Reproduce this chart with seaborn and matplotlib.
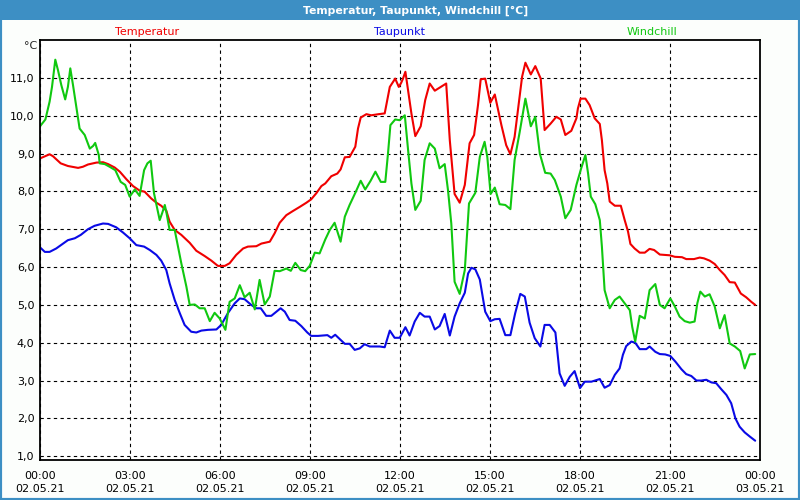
import pandas as pd
import matplotlib
matplotlib.use("Agg")
import matplotlib.pyplot as plt
import matplotlib.dates as mdates
from matplotlib.patches import Rectangle
from matplotlib.ticker import FuncFormatter
import seaborn as sns

# Stunden seit 02.05.21 00:00 und Werte in °C
temp_h = [0.00, 0.32, 0.43, 0.69, 0.93, 1.27, 1.43, 1.60, 1.88, 2.10, 2.27, 2.49, 2.66, 2.88, 3.10,
          3.32, 3.49, 3.71, 3.88, 4.04, 4.21, 4.32, 4.49, 4.71, 4.99, 5.21, 5.49, 5.71, 5.93, 6.16,
          6.32, 6.54, 6.77, 6.93, 7.21, 7.38, 7.66, 7.82, 7.99, 8.21, 8.43, 8.66, 8.88, 9.04, 9.21,
          9.38, 9.51, 9.71, 9.91, 10.02, 10.16, 10.32, 10.51, 10.60, 10.69, 10.88, 11.04, 11.29, 11.49,
          11.66, 11.84, 11.96, 12.04, 12.10, 12.18, 12.27, 12.38, 12.51, 12.69, 12.84, 12.99, 13.16,
          13.32, 13.54, 13.66, 13.82, 13.99, 14.16, 14.32, 14.47, 14.60, 14.69, 14.84, 15.01, 15.16,
          15.38, 15.54, 15.68, 15.82, 15.96, 16.07, 16.18, 16.36, 16.51, 16.69, 16.82, 17.02, 17.21,
          17.36, 17.51, 17.71, 17.88, 17.93, 18.02, 18.18, 18.32, 18.49, 18.66, 18.73, 18.82, 18.91,
          18.99, 19.16, 19.36, 19.49, 19.60, 19.68, 19.82, 19.99, 20.16, 20.32, 20.47, 20.66, 20.84,
          20.99, 21.16, 21.40, 21.54, 21.80, 21.99, 22.13, 22.32, 22.49, 22.66, 22.82, 22.99, 23.16,
          23.36, 23.54, 23.71, 23.84]
temp = [8.87, 8.98, 8.93, 8.74, 8.67, 8.62, 8.65, 8.71, 8.76, 8.77, 8.72, 8.63, 8.52, 8.32, 8.14,
        8.02, 7.99, 7.81, 7.70, 7.62, 7.49, 7.20, 6.98, 6.85, 6.64, 6.43, 6.29, 6.17, 6.03, 6.03,
        6.10, 6.32, 6.49, 6.54, 6.55, 6.62, 6.67, 6.89, 7.17, 7.37, 7.48, 7.59, 7.70, 7.79, 7.95,
        8.14, 8.21, 8.40, 8.47, 8.58, 8.90, 8.91, 9.18, 9.66, 9.95, 10.04, 10.01, 10.04, 10.06,
        10.76, 10.98, 10.76, 10.87, 10.98, 11.16, 10.67, 10.06, 9.46, 9.72, 10.41, 10.85, 10.66,
        10.74, 10.85, 9.35, 7.93, 7.70, 8.17, 9.27, 9.49, 10.28, 10.96, 10.98, 10.34, 10.56,
        9.75, 9.22, 8.98, 9.44, 10.32, 11.03, 11.40, 11.09, 11.31, 10.98, 9.62, 9.79, 9.97,
        9.90, 9.49, 9.60, 9.93, 10.19, 10.45, 10.45, 10.28, 9.93, 9.78, 9.35, 8.56, 8.21,
        7.73, 7.62, 7.62, 7.24, 6.94, 6.61, 6.49, 6.38, 6.38, 6.48, 6.45, 6.33, 6.32,
        6.31, 6.27, 6.26, 6.21, 6.21, 6.25, 6.23, 6.17, 6.08, 5.92, 5.79, 5.60, 5.59,
        5.30, 5.20, 5.08, 5.00]

taup_h = [0.00, 0.16, 0.32, 0.54, 0.77, 0.93, 1.16, 1.36, 1.60, 1.82, 2.10, 2.27, 2.54, 2.77, 2.99,
          3.21, 3.47, 3.66, 3.88, 4.04, 4.21, 4.32, 4.49, 4.66, 4.82, 5.04, 5.21, 5.38, 5.60, 5.88,
          6.04, 6.27, 6.49, 6.66, 6.82, 7.04, 7.21, 7.36, 7.54, 7.71, 7.88, 8.02, 8.16, 8.32, 8.51,
          8.71, 8.91, 9.04, 9.27, 9.43, 9.58, 9.71, 9.84, 9.96, 10.16, 10.32, 10.49, 10.66, 10.82,
          10.99, 11.16, 11.32, 11.49, 11.66, 11.82, 11.99, 12.18, 12.32, 12.49, 12.66, 12.82, 12.99,
          13.16, 13.32, 13.49, 13.66, 13.82, 13.99, 14.16, 14.27, 14.38, 14.51, 14.66, 14.84, 15.01,
          15.16, 15.32, 15.51, 15.68, 15.84, 16.01, 16.16, 16.32, 16.49, 16.68, 16.82, 16.99, 17.18,
          17.32, 17.49, 17.66, 17.82, 18.00, 18.16, 18.38, 18.66, 18.82, 18.99, 19.16, 19.32, 19.43,
          19.54, 19.71, 19.84, 19.99, 20.21, 20.32, 20.51, 20.66, 20.84, 21.01, 21.18, 21.38, 21.54,
          21.71, 21.88, 22.04, 22.21, 22.38, 22.54, 22.71, 22.88, 23.04, 23.18, 23.32, 23.49, 23.66,
          23.84]
taup = [6.52, 6.40, 6.40, 6.49, 6.62, 6.71, 6.76, 6.85, 7.00, 7.09, 7.15, 7.14, 7.05, 6.91, 6.76,
        6.58, 6.54, 6.45, 6.32, 6.17, 5.92, 5.57, 5.13, 4.78, 4.47, 4.29, 4.27, 4.32, 4.34, 4.35,
        4.47, 4.79, 5.04, 5.17, 5.15, 5.00, 4.91, 4.91, 4.71, 4.71, 4.82, 4.91, 4.82, 4.60, 4.58,
        4.44, 4.27, 4.18, 4.18, 4.19, 4.20, 4.13, 4.21, 4.12, 3.97, 3.97, 3.81, 3.85, 3.96,
        3.90, 3.90, 3.90, 3.88, 4.32, 4.13, 4.13, 4.41, 4.19, 4.56, 4.79, 4.69, 4.69,
        4.35, 4.44, 4.76, 4.19, 4.69, 5.04, 5.32, 5.83, 5.98, 5.94, 5.67, 4.82, 4.57,
        4.62, 4.63, 4.20, 4.20, 4.78, 5.29, 5.22, 4.53, 4.12, 3.90, 4.47, 4.47, 4.27,
        3.19, 2.86, 3.10, 3.25, 2.80, 2.97, 2.97, 3.04, 2.81, 2.88, 3.15, 3.32, 3.68,
        3.91, 4.03, 4.00, 3.83, 3.83, 3.90, 3.76, 3.70, 3.69, 3.65, 3.50, 3.30, 3.17,
        3.12, 3.00, 3.00, 3.02, 2.95, 2.93, 2.77, 2.62, 2.40, 2.00, 1.78, 1.63, 1.52,
        1.41]

wind_h = [0.00, 0.18, 0.32, 0.40, 0.51, 0.60, 0.71, 0.84, 0.93, 1.01, 1.10, 1.21, 1.32, 1.49, 1.66,
          1.77, 1.84, 1.96, 1.99, 2.16, 2.32, 2.51, 2.69, 2.84, 2.99, 3.16, 3.32, 3.47, 3.58, 3.69,
          3.80, 3.99, 4.07, 4.16, 4.21, 4.32, 4.49, 4.71, 4.88, 4.99, 5.16, 5.32, 5.49, 5.66, 5.82,
          5.99, 6.18, 6.32, 6.49, 6.66, 6.82, 6.99, 7.16, 7.32, 7.49, 7.66, 7.82, 7.99, 8.21, 8.36,
          8.51, 8.69, 8.84, 8.99, 9.16, 9.32, 9.51, 9.66, 9.82, 9.93, 10.02, 10.16, 10.32, 10.51,
          10.69, 10.84, 11.02, 11.18, 11.36, 11.51, 11.60, 11.68, 11.84, 11.99, 12.16, 12.27, 12.38,
          12.51, 12.69, 12.82, 12.99, 13.16, 13.32, 13.49, 13.60, 13.71, 13.82, 13.99, 14.16, 14.30,
          14.51, 14.66, 14.82, 14.91, 15.02, 15.16, 15.32, 15.51, 15.68, 15.82, 15.99, 16.18, 16.36,
          16.51, 16.66, 16.84, 17.02, 17.16, 17.36, 17.51, 17.69, 17.88, 18.04, 18.18, 18.27, 18.36,
          18.51, 18.66, 18.73, 18.82, 18.99, 19.16, 19.32, 19.49, 19.66, 19.74, 19.84, 19.99, 20.16,
          20.32, 20.51, 20.66, 20.82, 21.01, 21.16, 21.32, 21.49, 21.66, 21.82, 21.91, 22.01, 22.16,
          22.32, 22.49, 22.66, 22.82, 22.99, 23.16, 23.34, 23.49, 23.66, 23.84]
wind = [9.72, 9.90, 10.37, 10.76, 11.48, 11.20, 10.81, 10.43, 10.76, 11.25, 10.81, 10.23, 9.66, 9.49, 9.13,
        9.20, 9.28, 8.96, 8.74, 8.72, 8.65, 8.56, 8.25, 8.17, 7.86, 8.05, 7.88, 8.56, 8.74, 8.81,
        7.95, 7.24, 7.42, 7.64, 7.46, 6.98, 6.98, 6.10, 5.48, 5.00, 5.01, 4.91, 4.91, 4.57, 4.79,
        4.64, 4.34, 5.08, 5.17, 5.52, 5.20, 5.32, 4.88, 5.66, 5.01, 5.22, 5.90, 5.89, 5.96, 5.90,
        6.11, 5.92, 5.89, 6.03, 6.38, 6.36, 6.73, 6.98, 7.17, 6.89, 6.67, 7.33, 7.64, 7.96,
        8.28, 8.05, 8.28, 8.52, 8.25, 8.25, 9.00, 9.75, 9.90, 9.88, 10.01, 9.09, 8.21,
        7.51, 7.75, 8.83, 9.27, 9.13, 8.61, 8.72, 8.03, 7.15, 5.61, 5.29, 5.92, 7.68,
        7.96, 8.91, 9.31, 8.91, 7.93, 8.10, 7.66, 7.64, 7.53, 8.83, 9.57, 10.45, 9.72,
        9.97, 9.00, 8.49, 8.47, 8.30, 7.86, 7.29, 7.51, 8.17, 8.61, 8.96, 8.47, 7.86,
        7.66, 7.24, 6.54, 5.39, 4.91, 5.13, 5.22, 5.04, 4.86, 4.42, 4.03, 4.71, 4.64,
        5.39, 5.55, 5.00, 4.91, 5.17, 4.96, 4.69, 4.57, 4.53, 4.56, 5.04, 5.35, 5.22,
        5.28, 4.96, 4.38, 4.73, 3.98, 3.90, 3.78, 3.32, 3.69, 3.70]

names = ["Temperatur", "Taupunkt", "Windchill"]
colors = {"Temperatur": "#f00000", "Taupunkt": "#0a0ae6", "Windchill": "#10c810"}
bar_blue = "#3d8fc4"

sns.set_style("white")
plt.rcParams["font.family"] = ["DejaVu Sans"]

day = pd.Timestamp("2021-05-02")
parts = []
for name, hrs, vals in zip(names, [temp_h, taup_h, wind_h], [temp, taup, wind]):
    parts.append(pd.DataFrame({"zeit": day + pd.to_timedelta(hrs, unit="h"),
                               "wert": vals, "reihe": name}))
df = pd.concat(parts, ignore_index=True)

fig = plt.figure(figsize=(8, 5), dpi=100, facecolor="#fcfefc")
ax = fig.add_axes([0.05, 0.08, 0.90, 0.84])
ax.set_facecolor("white")

sns.lineplot(data=df, x="zeit", y="wert", hue="reihe", palette=colors, estimator=None,
             sort=False, linewidth=1.5, legend=False, ax=ax)

ax.set_xlim(day, day + pd.Timedelta(hours=24))
ax.set_ylim(0.9, 12.0)
ax.set_yticks(range(1, 12))
ax.yaxis.set_major_formatter(FuncFormatter(lambda v, p: f"{v:.1f}".replace(".", ",")))
ax.xaxis.set_major_locator(mdates.HourLocator(byhour=range(0, 24, 3)))
ax.xaxis.set_minor_locator(mdates.HourLocator())
ax.xaxis.set_major_formatter(mdates.DateFormatter("%H:%M\n%d.%m.%y"))
ax.set_xlabel("")
ax.set_ylabel("")

ax.grid(True, which="major", color="black", linestyle=(0, (3, 3)), linewidth=0.8)
ax.tick_params(axis="x", which="major", length=5, width=1, direction="out", pad=3,
               labelsize=8, colors="black")
ax.tick_params(axis="x", which="minor", length=3, width=1, direction="out")
ax.tick_params(axis="y", length=0, pad=4, labelsize=8, colors="black")
for side in ax.spines.values():
    side.set_visible(True)
    side.set_color("black")
    side.set_linewidth(1.3)

# Titelleiste und Rahmen
fig.patches.append(Rectangle((0, 0.96), 1, 0.04, transform=fig.transFigure,
                             facecolor=bar_blue, edgecolor="none", zorder=0))
fig.patches.append(Rectangle((0, 0), 1, 1, transform=fig.transFigure, fill=False,
                             edgecolor=bar_blue, linewidth=3, zorder=0))
fig.text(0.52, 0.979, "Temperatur, Taupunkt, Windchill [°C]", color="white",
         weight="bold", ha="center", va="center", fontsize=7.8)

for name, xpos in zip(names, [0.184, 0.499, 0.815]):
    fig.text(xpos, 0.936, name, color=colors[name], ha="center", va="center", fontsize=8)
fig.text(0.046, 0.908, "°C", ha="right", va="center", fontsize=8)

fig.canvas.draw()
plt.setp(ax.get_xticklabels(), linespacing=1.4)

fig.savefig("out.png", dpi=100, facecolor=fig.get_facecolor())
